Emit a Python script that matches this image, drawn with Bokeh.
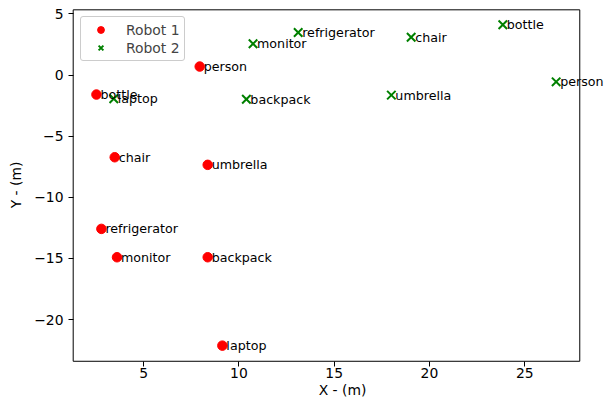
from bokeh.plotting import figure
from bokeh.models import ColumnDataSource, FixedTicker, Legend, LegendItem, Label
from bokeh.embed import file_html
from bokeh.resources import INLINE

# Robot 1 detections
r1_labels = ["bottle", "person", "chair", "umbrella", "refrigerator", "monitor", "backpack", "laptop"]
r1_x = [2.52, 7.94, 3.48, 8.36, 2.78, 3.60, 8.36, 9.13]
r1_y = [-1.59, 0.70, -6.72, -7.34, -12.58, -14.90, -14.90, -22.13]

# Robot 2 detections
r2_labels = ["laptop", "backpack", "monitor", "refrigerator", "chair", "bottle", "umbrella", "person"]
r2_x = [3.43, 10.39, 10.74, 13.11, 19.04, 23.85, 18.00, 26.65]
r2_y = [-1.94, -1.97, 2.56, 3.49, 3.10, 4.12, -1.64, -0.55]

x_ticks = [5, 10, 15, 20, 25]
y_ticks = [5, 0, -5, -10, -15, -20]

# visible axes box (data limits of the original chart)
box_x = (1.30, 27.89)
box_y = (-23.41, 5.34)

FONT = "DejaVu Sans"
FS = "13.9px"

# frame is extended to the right so that labels may spill past the axes box
p = figure(width=613, height=402, output_backend="svg", toolbar_location=None,
           x_range=(1.211, 29.66), y_range=(-23.51, 5.53),
           min_border_left=71, min_border_right=0, min_border_top=7, min_border_bottom=40)

p.grid.visible = False
p.outline_line_color = None

# axes box
p.quad(left=[box_x[0]], right=[box_x[1]], bottom=[box_y[0]], top=[box_y[1]],
       fill_color=None, line_color="black", line_width=1)

s1 = ColumnDataSource(dict(x=r1_x, y=r1_y, t=r1_labels))
s2 = ColumnDataSource(dict(x=r2_x, y=r2_y, t=r2_labels))

g1 = p.scatter("x", "y", source=s1, marker="circle", size=9.5, fill_color="#ff0000", line_color="#ff0000")
g2 = p.scatter("x", "y", source=s2, marker="x", size=12, line_color="#008000", line_width=2)

for xs, ys, ts in ((r1_x, r1_y, r1_labels), (r2_x, r2_y, r2_labels)):
    for xv, yv, tv in zip(xs, ys, ts):
        p.add_layout(Label(x=xv, y=yv, text=tv, x_offset=4, text_baseline="middle",
                           text_align="left", text_font=FONT, text_font_size="9.5pt",
                           text_color="black"))

legend = Legend(items=[LegendItem(label="Robot 1", renderers=[g1]),
                       LegendItem(label="Robot 2", renderers=[g2])],
                location="top_left")
legend.label_text_font = FONT
legend.label_text_font_size = FS
legend.border_line_color = "#cccccc"
legend.border_line_alpha = 1.0
legend.margin = 9
legend.padding = 4
legend.spacing = 1
legend.glyph_width = 31
legend.glyph_height = 17
legend.label_standoff = 10
legend.label_height = 17
if "border_radius" in legend.properties():
    legend.border_radius = 3
p.add_layout(legend)

for ax in (p.xaxis[0], p.yaxis[0]):
    ax.major_label_text_font = FONT
    ax.major_label_text_font_size = FS
    ax.axis_label_text_font = FONT
    ax.axis_label_text_font_size = FS
    ax.axis_label_text_font_style = "normal"
    ax.minor_tick_in = 0
    ax.minor_tick_out = 0
    ax.axis_line_color = None
    ax.major_label_text_color = "black"
    ax.axis_label_text_color = "black"

p.xaxis.major_tick_in = 1
p.xaxis.major_tick_out = 4
p.yaxis.major_tick_in = 2
p.yaxis.major_tick_out = 3

p.xaxis.ticker = FixedTicker(ticks=x_ticks)
p.yaxis.ticker = FixedTicker(ticks=y_ticks)
p.xaxis.axis_label = "X - (m)"
p.yaxis.axis_label = "Y - (m)"
p.yaxis.major_label_overrides = {t: (str(t).replace("-", "\u2212")) for t in y_ticks}
p.xaxis.major_label_standoff = 1
p.xaxis.axis_label_standoff = 1
p.yaxis.major_label_standoff = 5
p.yaxis.axis_label_standoff = 7

open("out.html", "w").write(file_html(p, INLINE))
